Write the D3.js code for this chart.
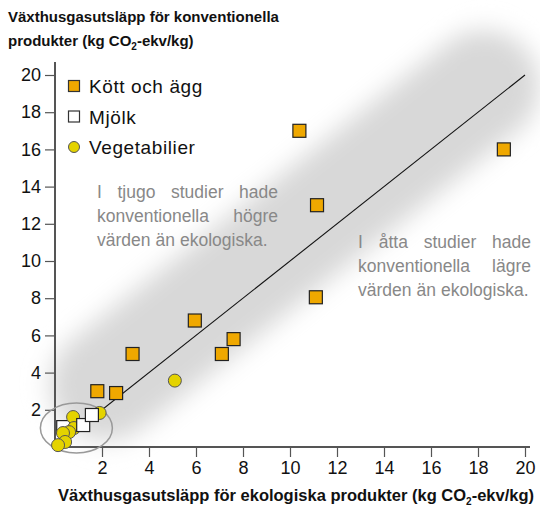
<!DOCTYPE html>
<html>
<head>
<meta charset="utf-8">
<script src="https://cdn.jsdelivr.net/npm/d3@7"></script>
<style>
  body { margin: 0; background: #fff; }
  svg { display: block; font-family: "Liberation Sans", Arial, Helvetica, sans-serif; }
</style>
</head>
<body>
<script>
// Kött och ägg
const meatX = [10.4, 19.1, 11.15, 11.1, 5.95, 7.6, 7.1, 3.3, 1.8, 2.6]
const meatY = [17.0, 16.0, 13.0, 8.05, 6.8, 5.8, 5.0, 5.0, 3.0, 2.9]
// Mjölk (the first one sits under the yellow circles)
const milkX = [0.35, 1.2, 1.57]
const milkY = [1.07, 1.18, 1.72]
// Vegetabilier
const vegX = [5.1, 1.9, 0.77, 0.81, 0.6, 0.34, 0.43, 0.13]
const vegY = [3.57, 1.83, 1.61, 1.02, 0.8, 0.75, 0.27, 0.1]

const tickVals = [2, 4, 6, 8, 10, 12, 14, 16, 18, 20]
const legendLabels = ["Kött och ägg", "Mjölk", "Vegetabilier"]
const noteAbove = ["I tjugo studier hade", "konventionella högre", "värden än ekologiska."]
const noteBelow = ["I åtta studier hade", "konventionella lägre", "värden än ekologiska."]

const width = 540, height = 508
const orange = "#efa800", yellow = "#e4d300"

const svg = d3.select("body").append("svg")
    .attr("width", width)
    .attr("height", height)

const x = d3.scaleLinear().domain([0, 20]).range([55, 525])
const y = d3.scaleLinear().domain([0, 20]).range([447, 75])

const defs = svg.append("defs")
defs.append("filter")
    .attr("id", "blur")
    .attr("filterUnits", "userSpaceOnUse")
    .attr("x", -100).attr("y", -100).attr("width", 800).attr("height", 800)
  .append("feGaussianBlur")
    .attr("stdDeviation", 12)

// grey band along the diagonal, shifted a bit to the upper left
const ang = Math.atan2(y(20) - y(0), x(20) - x(0)) * 180 / Math.PI
const t0 = 1.5, t1 = 19.8
const len = Math.hypot(x(t1) - x(t0), y(t1) - y(t0))
const hw = 56
svg.append("g")
    .attr("transform", `translate(${x(t0)},${y(t0)}) rotate(${ang}) translate(0,-17)`)
  .append("rect")
    .attr("x", -hw * 0.4).attr("y", -hw)
    .attr("width", len + hw * 0.8).attr("height", hw * 2)
    .attr("rx", hw).attr("ry", hw)
    .attr("fill", "#d8d8d8")
    .attr("filter", "url(#blur)")

// titles
const title = svg.append("text")
    .attr("x", 8).attr("y", 22)
    .attr("font-size", 15).attr("font-weight", "bold").attr("fill", "#111")
title.append("tspan").text("Växthusgasutsläpp för konventionella")
const t2 = svg.append("text")
    .attr("x", 8).attr("y", 46)
    .attr("font-size", 15).attr("font-weight", "bold").attr("fill", "#111")
t2.append("tspan").text("produkter (kg CO")
t2.append("tspan").attr("font-size", 10).attr("dy", 4).text("2")
t2.append("tspan").attr("dy", -4).text("-ekv/kg)")

const xt = svg.append("text")
    .attr("x", 534).attr("y", 501).attr("text-anchor", "end")
    .attr("font-size", 16.5).attr("font-weight", "bold").attr("fill", "#111")
xt.append("tspan").text("Växthusgasutsläpp för ekologiska produkter (kg CO")
xt.append("tspan").attr("font-size", 10).attr("dy", 4).text("2")
xt.append("tspan").attr("dy", -4).text("-ekv/kg)")

// axes
const yAxis = svg.append("g")
    .attr("transform", `translate(${x(0)},0)`)
    .call(d3.axisLeft(y).tickValues(tickVals).tickSize(10).tickPadding(4))
const xAxis = svg.append("g")
    .attr("transform", `translate(0,${y(0)})`)
    .call(d3.axisBottom(x).tickValues(tickVals).tickSize(10).tickPadding(4))
for (const a of [xAxis, yAxis]) {
  a.select(".domain").remove()
  a.selectAll(".tick line").attr("stroke", "#555").attr("stroke-width", 1.2)
  a.selectAll(".tick text").attr("font-size", 18).attr("fill", "#111")
    .attr("font-family", "'Liberation Sans', Arial, sans-serif")
}
svg.append("line")
    .attr("x1", x(0)).attr("x2", x(0)).attr("y1", y(0)).attr("y2", 62)
    .attr("stroke", "#555").attr("stroke-width", 2)
svg.append("line")
    .attr("x1", x(0)).attr("x2", 530).attr("y1", y(0)).attr("y2", y(0))
    .attr("stroke", "#555").attr("stroke-width", 2)

// diagonal
svg.append("line")
    .attr("x1", x(0)).attr("y1", y(0)).attr("x2", x(20)).attr("y2", y(20))
    .attr("stroke", "#111").attr("stroke-width", 1.1)

// ellipse around the low cluster
svg.append("ellipse")
    .attr("cx", x(0.91)).attr("cy", y(1.02))
    .attr("rx", 36).attr("ry", 25)
    .attr("fill", "none").attr("stroke", "#999").attr("stroke-width", 1.5)

// points
const sq = 13
const milk = d3.zip(milkX, milkY)
function squares(data, fill) {
  svg.append("g").selectAll("rect")
    .data(data)
    .join("rect")
      .attr("x", d => x(d[0]) - sq / 2).attr("y", d => y(d[1]) - sq / 2)
      .attr("width", sq).attr("height", sq)
      .attr("fill", fill).attr("stroke", "#222").attr("stroke-width", 1.2)
}
squares(milk.slice(0, 1), "#fff")
svg.append("g").selectAll("circle")
  .data(d3.zip(vegX, vegY))
  .join("circle")
    .attr("cx", d => x(d[0])).attr("cy", d => y(d[1]))
    .attr("r", 6.5)
    .attr("fill", yellow).attr("stroke", "#555").attr("stroke-width", 1)
squares(milk.slice(1), "#fff")
squares(d3.zip(meatX, meatY), orange)

// legend
const lg = svg.append("g").attr("transform", "translate(74,86)")
legendLabels.forEach((lab, i) => {
  const g = lg.append("g").attr("transform", `translate(0,${i * 30.5})`)
  if (i === 2) {
    g.append("circle").attr("r", 5.5).attr("fill", yellow).attr("stroke", "#555")
  } else {
    g.append("rect").attr("x", -5.5).attr("y", -5.5).attr("width", 11).attr("height", 11)
      .attr("fill", i === 0 ? orange : "#fff").attr("stroke", "#333").attr("stroke-width", 1.2)
  }
  g.append("text").attr("x", 15).attr("y", 7)
    .attr("font-size", 19).attr("letter-spacing", 0.6).attr("fill", "#111").text(lab)
})

// justified notes
function note(lines, x0, x1, y0) {
  lines.forEach((ln, i) => {
    const words = ln.split(" ")
    const g = svg.append("g")
    const nodes = words.map(w => g.append("text")
      .attr("y", y0 + i * 24).attr("font-size", 17.5).attr("fill", "#888").text(w))
    const widths = nodes.map(n => n.node().getComputedTextLength())
    const total = d3.sum(widths)
    const last = i === lines.length - 1
    const gap = last ? 5 : (x1 - x0 - total) / (words.length - 1)
    let cx = x0
    nodes.forEach((n, j) => { n.attr("x", cx); cx += widths[j] + gap })
  })
}
note(noteAbove, 97, 278, 198)
note(noteBelow, 358, 531, 248)
</script>
</body>
</html>
